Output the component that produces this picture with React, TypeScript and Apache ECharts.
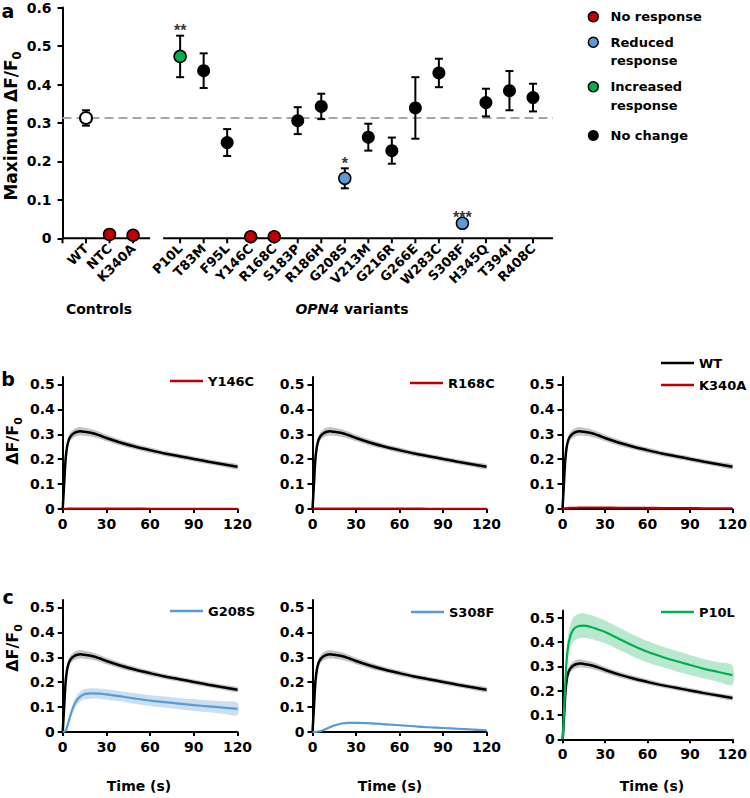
import React, { useEffect, useRef } from "react";
import * as echarts from "echarts";

const FONT = "DejaVu Sans";
const RED = "#C00000";
const BLUE = "#5B9BD5";
const GREEN = "#00B050";

// ---------- Panel a data ----------
const controlNames = ["WT", "NTC", "K340A"];
const controlMeans = [0.313, 0.010, 0.008];
const controlSems = [0.020, 0.002, 0.002];
const controlGroups = ["wt", "none", "none"];

const variantNames = ["P10L", "T83M", "F95L", "Y146C", "R168C", "S183P", "R186H", "G208S", "V213M", "G216R", "G266E", "W283C", "S308F", "H345Q", "T394I", "R408C"];
const variantMeans = [0.473, 0.436, 0.249, 0.004, 0.004, 0.306, 0.343, 0.156, 0.263, 0.228, 0.339, 0.430, 0.039, 0.353, 0.384, 0.366];
const variantSems = [0.054, 0.045, 0.035, 0.002, 0.002, 0.035, 0.033, 0.026, 0.035, 0.034, 0.080, 0.037, 0.003, 0.036, 0.051, 0.036];
const variantGroups = ["inc", "nc", "nc", "none", "none", "nc", "nc", "red", "nc", "nc", "nc", "nc", "red", "nc", "nc", "nc"];

const sigNames = ["P10L", "G208S", "S308F"];
const sigMarks = ["**", "*", "***"];

const groupKeys = ["none", "red", "inc", "nc"];
const groupLabels = ["No response", "Reduced\nresponse", "Increased\nresponse", "No change"];
const groupColors = [RED, BLUE, GREEN, "#000000"];

// ---------- Panels b/c data (time courses) ----------
const tPts = [0, 1, 2, 3, 4, 5, 6, 8, 10, 12, 15, 20, 25, 30, 40, 50, 60, 70, 80, 90, 100, 110, 120];
const wtMean = [0, 0.10, 0.20, 0.25, 0.275, 0.288, 0.296, 0.305, 0.310, 0.312, 0.310, 0.305, 0.296, 0.285, 0.266, 0.250, 0.236, 0.223, 0.212, 0.201, 0.190, 0.180, 0.170];
const wtSem = [0, 0.008, 0.012, 0.014, 0.015, 0.016, 0.016, 0.017, 0.017, 0.017, 0.016, 0.015, 0.014, 0.013, 0.012, 0.011, 0.011, 0.010, 0.010, 0.010, 0.010, 0.010, 0.010];
const y146cMean = [0, 0.001, 0.001, 0.001, 0.002, 0.002, 0.002, 0.002, 0.002, 0.002, 0.002, 0.002, 0.002, 0.002, 0.002, 0.002, 0.001, 0.001, 0.001, 0.001, 0.001, 0.001, 0.001];
const r168cMean = [0, 0.001, 0.002, 0.002, 0.002, 0.002, 0.002, 0.002, 0.002, 0.002, 0.002, 0.002, 0.002, 0.002, 0.002, 0.002, 0.002, 0.002, 0.001, 0.001, 0.001, 0.001, 0.001];
const k340aMean = [0, 0.002, 0.003, 0.004, 0.004, 0.005, 0.005, 0.005, 0.005, 0.006, 0.006, 0.006, 0.006, 0.006, 0.005, 0.005, 0.005, 0.004, 0.004, 0.004, 0.003, 0.003, 0.003];
const g208sMean = [0, 0.002, 0.005, 0.02, 0.04, 0.06, 0.08, 0.11, 0.13, 0.142, 0.152, 0.155, 0.154, 0.151, 0.143, 0.134, 0.126, 0.120, 0.114, 0.108, 0.103, 0.098, 0.093];
const g208sSem = [0, 0.001, 0.003, 0.008, 0.012, 0.015, 0.017, 0.019, 0.020, 0.021, 0.021, 0.021, 0.021, 0.021, 0.021, 0.022, 0.022, 0.023, 0.023, 0.024, 0.024, 0.025, 0.025];
const s308fMean = [0, 0, 0, 0.001, 0.002, 0.003, 0.005, 0.009, 0.014, 0.019, 0.026, 0.034, 0.037, 0.037, 0.035, 0.031, 0.027, 0.023, 0.019, 0.016, 0.013, 0.010, 0.007];
const s308fSem = [0, 0, 0, 0.001, 0.001, 0.002, 0.002, 0.003, 0.003, 0.004, 0.004, 0.004, 0.004, 0.004, 0.004, 0.004, 0.004, 0.004, 0.004, 0.004, 0.003, 0.003, 0.003];
const p10lMean = [0, 0.12, 0.25, 0.34, 0.39, 0.415, 0.435, 0.455, 0.463, 0.467, 0.468, 0.462, 0.452, 0.442, 0.413, 0.385, 0.360, 0.340, 0.322, 0.306, 0.290, 0.277, 0.264];
const p10lSem = [0, 0.02, 0.03, 0.04, 0.045, 0.048, 0.05, 0.05, 0.05, 0.05, 0.05, 0.049, 0.048, 0.047, 0.046, 0.045, 0.044, 0.043, 0.042, 0.041, 0.040, 0.040, 0.040];

const panels = [
  { key: "Y146C", color: RED, mean: y146cMean, sem: null, band: "", grid: { left: 62.7, top: 377, width: 174.8, height: 132 }, legend: { left: 170, top: 373 }, withWT: false },
  { key: "R168C", color: RED, mean: r168cMean, sem: null, band: "", grid: { left: 312.5, top: 377, width: 174, height: 132 }, legend: { left: 410, top: 375 }, withWT: false },
  { key: "K340A", color: RED, mean: k340aMean, sem: null, band: "", grid: { left: 562.5, top: 377, width: 173, height: 132 }, legend: { left: 661, top: 355 }, withWT: true },
  { key: "G208S", color: BLUE, mean: g208sMean, sem: g208sSem, band: "rgba(91,155,213,0.32)", grid: { left: 62.7, top: 600, width: 174.8, height: 132 }, legend: { left: 170, top: 603 }, withWT: false },
  { key: "S308F", color: BLUE, mean: s308fMean, sem: s308fSem, band: "rgba(91,155,213,0.32)", grid: { left: 312.5, top: 600, width: 174, height: 132 }, legend: { left: 411, top: 604 }, withWT: false },
  { key: "P10L", color: GREEN, mean: p10lMean, sem: p10lSem, band: "rgba(0,176,80,0.28)", grid: { left: 562.7, top: 610.5, width: 173.3, height: 128.8 }, legend: { left: 661, top: 604 }, withWT: false },
];

const slotLabels = ["", ...controlNames, "", ...variantNames, ""];
const axisSegments = [[0, 3.72], [4.28, 20.85]];

function buildOption() {
  const allNames = [...controlNames, ...variantNames];
  const allSlots = [...controlNames.map((_, i) => i + 1), ...variantNames.map((_, i) => i + 5)];
  const allMeans = [...controlMeans, ...variantMeans];
  const allSems = [...controlSems, ...variantSems];
  const allGroups = [...controlGroups, ...variantGroups];

  const bold = { fontFamily: FONT, fontWeight: "bold", color: "#000" };
  const black2 = { color: "#000", width: 2 };

  const grids: any[] = [{ left: 62.5, top: 7.6, width: 494, height: 230.7 }];
  const xAxes: any[] = [{
    gridIndex: 0, type: "value", min: 0, max: 21, interval: 1,
    axisLine: { show: false }, axisTick: { show: false }, splitLine: { show: false },
    axisLabel: { ...bold, fontSize: 13, rotate: 45, margin: 8, formatter: (v: number) => slotLabels[Math.round(v)] || "" },
  }];
  const yAxes: any[] = [{
    gridIndex: 0, type: "value", min: 0, max: 0.6, interval: 0.1,
    axisLine: { show: true, lineStyle: black2 }, axisTick: { show: true, length: 5, lineStyle: black2 },
    splitLine: { show: false },
    axisLabel: { ...bold, fontSize: 14, margin: 11, formatter: (v: number) => String(Math.round(v * 10) / 10) },
  }];

  const series: any[] = [];
  // reference dashed line (WT mean)
  series.push({
    type: "line", xAxisIndex: 0, yAxisIndex: 0, silent: true, symbol: "none", z: 1,
    data: [[0, controlMeans[0]], [20.85, controlMeans[0]]],
    lineStyle: { color: "#A6A6A6", width: 2, type: [9, 5] },
  });
  // broken x axis line with ticks
  series.push({
    type: "custom", xAxisIndex: 0, yAxisIndex: 0, silent: true, z: 2,
    data: axisSegments,
    encode: { x: [0, 1] },
    renderItem: (params: any, api: any) => {
      const a = api.value(0), b = api.value(1);
      const p1 = api.coord([a, 0]);
      const p2 = api.coord([b, 0]);
      const children: any[] = [{ type: "line", shape: { x1: p1[0], y1: p1[1], x2: p2[0], y2: p2[1] }, style: { stroke: "#000", lineWidth: 2 } }];
      for (let k = Math.ceil(a); k <= Math.floor(b); k++) {
        const p = api.coord([k, 0]);
        children.push({ type: "line", shape: { x1: p[0], y1: p[1], x2: p[0], y2: p[1] + 5 }, style: { stroke: "#000", lineWidth: 2 } });
      }
      return { type: "group", children };
    },
  });
  // error bars
  series.push({
    type: "custom", xAxisIndex: 0, yAxisIndex: 0, silent: true, z: 3,
    data: allSlots.map((s, i) => [s, allMeans[i] - allSems[i], allMeans[i] + allSems[i]]),
    encode: { x: 0, y: [1, 2] },
    renderItem: (params: any, api: any) => {
      const x = api.value(0);
      const lo = api.coord([x, api.value(1)]);
      const hi = api.coord([x, api.value(2)]);
      const st = { stroke: "#000", lineWidth: 2 };
      return {
        type: "group", children: [
          { type: "line", shape: { x1: hi[0], y1: hi[1], x2: lo[0], y2: lo[1] }, style: st },
          { type: "line", shape: { x1: hi[0] - 4, y1: hi[1], x2: hi[0] + 4, y2: hi[1] }, style: st },
          { type: "line", shape: { x1: lo[0] - 4, y1: lo[1], x2: lo[0] + 4, y2: lo[1] }, style: st },
        ],
      };
    },
  });
  // WT open point
  series.push({
    type: "scatter", name: "WT control", xAxisIndex: 0, yAxisIndex: 0, z: 4, symbolSize: 12,
    itemStyle: { color: "#fff", borderColor: "#000", borderWidth: 2, opacity: 1 },
    data: allSlots.map((s, i) => [s, allMeans[i]]).filter((_, i) => allGroups[i] === "wt"),
  });
  groupKeys.forEach((g, gi) => {
    const isNc = g === "nc";
    series.push({
      type: "scatter", name: groupLabels[gi].replace("\n", " "), xAxisIndex: 0, yAxisIndex: 0, z: 4,
      symbolSize: isNc ? 13 : 12,
      itemStyle: isNc ? { color: "#000", opacity: 1 } : { color: groupColors[gi], borderColor: "#000", borderWidth: 1.5, opacity: 1 },
      data: allSlots.map((s, i) => [s, allMeans[i]]).filter((_, i) => allGroups[i] === g),
    });
  });
  // significance marks
  series.push({
    type: "scatter", xAxisIndex: 0, yAxisIndex: 0, symbolSize: 0, silent: true, z: 5,
    data: sigNames.map((n, i) => {
      const k = allNames.indexOf(n);
      return { value: [allSlots[k], allMeans[k] + allSems[k]], label: { formatter: sigMarks[i] } };
    }),
    label: { show: true, position: "top", distance: -3, fontFamily: "Liberation Sans", fontSize: 16, fontWeight: "bold", color: "#000" },
  });

  // ---------- small panels ----------
  const legends: any[] = [];
  panels.forEach((p, pi) => {
    const gi = pi + 1;
    grids.push(p.grid);
    xAxes.push({
      gridIndex: gi, type: "value", min: 0, max: 120, interval: 30,
      axisLine: { show: true, lineStyle: black2 }, axisTick: { show: true, length: 4, lineStyle: black2 },
      splitLine: { show: false },
      axisLabel: { ...bold, fontSize: 14, margin: 8 },
    });
    yAxes.push({
      gridIndex: gi, type: "value", min: 0, max: 0.53, interval: 0.1,
      axisLine: { show: true, lineStyle: black2 }, axisTick: { show: true, length: 5, lineStyle: black2 },
      splitLine: { show: false },
      axisLabel: {
        ...bold, fontSize: 14, margin: 8, showMaxLabel: false,
        formatter: (v: number) => {
          const r = Math.round(v * 10) / 10;
          return Math.abs(r - v) < 1e-6 ? String(r) : "";
        },
      },
    });
    const band = (mean: number[], sem: number[], color: string) => ({
      type: "custom", xAxisIndex: gi, yAxisIndex: gi, silent: true, z: 1,
      data: tPts.map((t, i) => [t, Math.max(0, mean[i] - sem[i]), mean[i] + sem[i]]),
      encode: { x: 0, y: [1, 2] },
      renderItem: (params: any, api: any) => {
        if (params.dataIndexInside !== 0) return { type: "group", children: [] };
        const n = params.dataInsideLength;
        const upper: number[][] = [];
        const lower: number[][] = [];
        for (let i = 0; i < n; i++) {
          const t = api.value(0, i);
          upper.push(api.coord([t, api.value(2, i)]));
          lower.push(api.coord([t, api.value(1, i)]));
        }
        return { type: "polygon", shape: { points: [...upper, ...lower.reverse()], smooth: 0.3 }, style: { fill: color, stroke: "none" } };
      },
    });
    series.push(band(wtMean, wtSem, "#C4C4C4"));
    if (p.sem) series.push(band(p.mean, p.sem, p.band));
    series.push({
      type: "line", name: "WT", xAxisIndex: gi, yAxisIndex: gi, symbol: "none", smooth: 0.35,
      color: "#000", lineStyle: { color: "#000", width: 2.5 }, z: 3,
      data: tPts.map((t, i) => [t, wtMean[i]]),
    });
    series.push({
      type: "line", name: p.key, xAxisIndex: gi, yAxisIndex: gi, symbol: "none", smooth: 0.35,
      color: p.color, lineStyle: { color: p.color, width: 2.2 }, z: 4,
      data: tPts.map((t, i) => [t, p.mean[i]]),
    });
    legends.push({
      left: p.legend.left, top: p.legend.top, orient: "vertical", itemGap: 6, padding: 0,
      selectedMode: false, icon: "rect", itemWidth: 33, itemHeight: 2.5,
      data: p.withWT ? ["WT", p.key] : [p.key],
      textStyle: { fontFamily: FONT, fontWeight: "bold", fontSize: 13, color: "#000", lineHeight: 16 },
    });
  });

  // ---------- graphic texts ----------
  const txt = (text: string, x: number, y: number, size: number, extra: any = {}) => ({
    type: "text", x, y, silent: true,
    style: { text, fill: "#000", font: `bold ${size}px "${FONT}"`, align: "center", verticalAlign: "middle", textAlign: "center", textVerticalAlign: "middle", ...extra },
  });
  const subTitle = (main: string, sub: string, x: number, y: number, size: number, subSize: number) => ({
    type: "text", x, y, rotation: Math.PI / 2, silent: true,
    style: {
      text: `{m|${main}}{s|${sub}}`, align: "center", verticalAlign: "middle", textAlign: "center", textVerticalAlign: "middle",
      rich: {
        m: { fontFamily: FONT, fontWeight: "bold", fontSize: size, lineHeight: size + 6, fill: "#000" },
        s: { fontFamily: FONT, fontWeight: "bold", fontSize: subSize, lineHeight: subSize, verticalAlign: "bottom", fill: "#000" },
      },
    },
  });

  const graphic: any[] = [
    txt("a", 8, 11, 19),
    txt("b", 8, 379, 19),
    txt("c", 8, 597, 19),
    subTitle("Maximum ΔF/F", "0", 11, 126, 17, 11.5),
    subTitle("ΔF/F", "0", 12.5, 441, 16, 11),
    subTitle("ΔF/F", "0", 12.5, 648, 16, 11),
    txt("Controls", 99, 309, 14),
    {
      type: "text", x: 352, y: 309, silent: true,
      style: {
        text: "{i|OPN4}{n| variants}", align: "center", verticalAlign: "middle", textAlign: "center", textVerticalAlign: "middle",
        rich: {
          i: { fontFamily: FONT, fontWeight: "bold", fontStyle: "italic", fontSize: 14, fill: "#000" },
          n: { fontFamily: FONT, fontWeight: "bold", fontSize: 14, fill: "#000" },
        },
      },
    },
    txt("Time (s)", 139, 786, 14),
    txt("Time (s)", 390, 786, 14),
    txt("Time (s)", 652, 786, 14),
  ];
  const legendY = [16.7, 42.3, 86.7, 135.5];
  groupKeys.forEach((g, gi) => {
    graphic.push({
      type: "circle", silent: true, shape: { cx: 593.3, cy: legendY[gi], r: g === "nc" ? 5.5 : 5 },
      style: g === "nc" ? { fill: "#000" } : { fill: groupColors[gi], stroke: "#000", lineWidth: 1.5 },
    });
    graphic.push({
      type: "text", x: 610.5, y: legendY[gi] - 9.25, silent: true,
      style: { text: groupLabels[gi], fill: "#000", font: `bold 13px "${FONT}"`, lineHeight: 18.5, align: "left", verticalAlign: "top", textAlign: "left", textVerticalAlign: "top" },
    });
  });

  return {
    animation: false,
    backgroundColor: "#fff",
    grid: grids,
    xAxis: xAxes,
    yAxis: yAxes,
    legend: legends,
    series,
    graphic,
  };
}

export default function App() {
  const ref = useRef<HTMLDivElement>(null);
  useEffect(() => {
    document.body.style.margin = "0";
    const chart = echarts.init(ref.current!, null, { renderer: "svg" });
    chart.setOption(buildOption() as any);
    return () => chart.dispose();
  }, []);
  return <div ref={ref} style={{ width: 750, height: 798 }} />;
}
